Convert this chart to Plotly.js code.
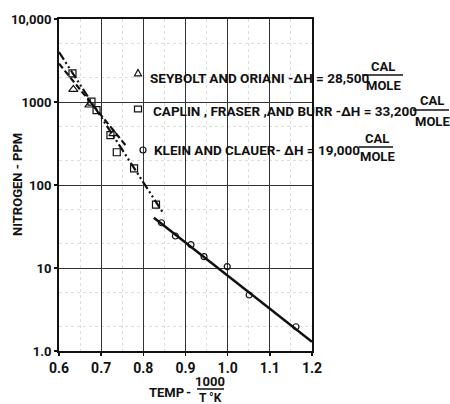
<!DOCTYPE html>
<html>
<head>
<meta charset="utf-8">
<script src="https://cdn.plot.ly/plotly-3.0.1.min.js"></script>
<style>
html,body{margin:0;padding:0;background:#fff;}
#chart{width:450px;height:404px;}
</style>
</head>
<body>
<div id="chart"></div>
<script>
// ---- data ----
var seyboltX = [0.597, 0.634, 0.672, 0.729];
var seyboltY = [2660, 1420, 920, 415];

var caplinX = [0.632, 0.677, 0.689, 0.722, 0.737, 0.778, 0.830];
var caplinY = [2210, 1010, 800, 400, 248, 159, 58];

var kleinX = [0.843, 0.876, 0.913, 0.944, 0.999, 1.051, 1.162];
var kleinY = [35.1, 24.3, 19.1, 13.7, 10.4, 4.73, 1.96];

var caplinFitX = [0.600, 0.847];
var caplinFitY = [4000, 46];
var seyboltFitX = [0.600, 0.760];
var seyboltFitY = [2900, 292];
var kleinFitX = [0.825, 1.200];
var kleinFitY = [40.4, 1.29];

var xTicks = [0.6, 0.7, 0.8, 0.9, 1.0, 1.1, 1.2];
var xTickText = ["0.6", "0.7", "0.8", "0.9", "1.0", "1.1", "1.2"];
var yTicks = [1, 10, 100, 1000, 10000];
var yTickText = ["1.0", "10", "100", "1000", "10,000"];

var legendNames = ["SEYBOLT AND ORIANI -\u0394H = 28,500", "CAPLIN , FRASER ,AND BURR -\u0394H = 33,200", "KLEIN AND CLAUER- \u0394H = 19,000"];
var legendSymbols = ["triangle", "square", "circle"];
var fracTop = "CAL";
var fracBottom = "MOLE";

// ---- layout geometry ----
var W = 450, H = 404;
var L = 59, R = 312, T = 19, B = 351;
function px(x){ return (x - L) / (R - L); }
function py(y){ return (B - y) / (B - T); }

var FONT = 'Roboto, "Liberation Sans", sans-serif';
var black = '#111';

var traces = [
  {x: caplinFitX, y: caplinFitY, mode: 'lines', line: {color: black, width: 2.2, dash: '9px,3px,2px,3px,2px,3px'}, hoverinfo: 'skip'},
  {x: seyboltFitX, y: seyboltFitY, mode: 'lines', line: {color: black, width: 2.2, dash: '6px,3px'}, hoverinfo: 'skip'},
  {x: kleinFitX, y: kleinFitY, mode: 'lines', line: {color: black, width: 2.6}, hoverinfo: 'skip'},
  {x: seyboltX, y: seyboltY, mode: 'markers', cliponaxis: false,
   marker: {symbol: 'triangle-up-open', size: 8, color: black, line: {width: 1.2}}},
  {x: caplinX, y: caplinY, mode: 'markers', cliponaxis: false,
   marker: {symbol: 'square-open', size: 7, color: black, line: {width: 1.2}}},
  {x: kleinX, y: kleinY, mode: 'markers', cliponaxis: false,
   marker: {symbol: 'circle-open', size: 6, color: black, line: {width: 1.2}}}
];

var ann = [];
var shapes = [];
function txt(t, x, y, size, anchor){
  ann.push({text: t, xref: 'paper', yref: 'paper', x: px(x), y: py(y), xanchor: anchor || 'left', yanchor: 'middle',
            showarrow: false, font: {family: FONT, size: size, color: black, weight: 'bold'}});
}
function bar(x0, x1, y){
  shapes.push({type: 'line', xref: 'paper', yref: 'paper', x0: px(x0), x1: px(x1), y0: py(y), y1: py(y),
               line: {color: black, width: 1.5}});
}
function symbolShape(kind, cx, cy){
  var s = 3.5;
  var ln = {color: black, width: 1.2};
  if (kind === 'triangle') {
    var p = 'M' + px(cx - s) + ',' + py(cy + s * 0.8) + ' L' + px(cx + s) + ',' + py(cy + s * 0.8) + ' L' + px(cx) + ',' + py(cy - s) + ' Z';
    shapes.push({type: 'path', xref: 'paper', yref: 'paper', path: p, line: ln});
  } else if (kind === 'square') {
    shapes.push({type: 'rect', xref: 'paper', yref: 'paper', x0: px(cx - s), x1: px(cx + s), y0: py(cy + s * 0.8), y1: py(cy - s * 0.8), line: ln});
  } else {
    shapes.push({type: 'circle', xref: 'paper', yref: 'paper', x0: px(cx - 3), x1: px(cx + 3), y0: py(cy + 3), y1: py(cy - 3), line: ln});
  }
}

// legend rows
var rows = [
  {sx: 138, sy: 73, tx: 148, ty: 77.5, cx: 383, cy: 66, b0: 362, b1: 403, by: 75, my: 86},
  {sx: 138, sy: 109, tx: 151, ty: 111, cx: 432, cy: 100, b0: 413, b1: 449, by: 110, my: 121},
  {sx: 143, sy: 150, tx: 152, ty: 150, cx: 377, cy: 138, b0: 359, b1: 393, by: 147, my: 157}
];
rows.forEach(function(r, i){
  symbolShape(legendSymbols[i], r.sx, r.sy);
  txt(legendNames[i], r.tx, r.ty, 13.5, 'left');
  txt(fracTop, r.cx, r.cy, 13, 'center');
  txt(fracBottom, r.cx, r.my, 13, 'center');
  bar(r.b0, r.b1, r.by);
});

// x axis title with fraction
txt("TEMP", 147, 392, 13, 'left');
txt("-", 188, 392, 13, 'center');
txt("1000", 210, 381, 13, 'center');
bar(197, 224, 389);
txt("T \u00B0K", 210, 398, 12, 'center');

// y axis title
ann.push({text: "NITROGEN - PPM", xref: 'paper', yref: 'paper', x: px(17), y: py(185), xanchor: 'center', yanchor: 'middle',
          textangle: -90, showarrow: false, font: {family: FONT, size: 13, color: black, weight: 'bold'}});

var layout = {
  width: W, height: H,
  margin: {l: L, r: W - R, t: T, b: H - B, pad: 0},
  paper_bgcolor: '#fff', plot_bgcolor: '#fff',
  showlegend: false,
  xaxis: {
    type: 'linear', range: [0.6, 1.2], tickvals: xTicks, ticktext: xTickText,
    showgrid: true, gridcolor: '#333', gridwidth: 1,
    minor: {dtick: 0.05, showgrid: true, gridcolor: '#dddddd', griddash: 'dot', gridwidth: 1},
    showline: true, linecolor: black, linewidth: 2, mirror: true,
    ticks: 'outside', ticklen: 3, tickcolor: black, tickwidth: 1.5,
    tickfont: {family: FONT, size: 14, color: black, weight: 'bold'},
    zeroline: false, fixedrange: true
  },
  yaxis: {
    type: 'log', range: [0, 4], tickvals: yTicks, ticktext: yTickText,
    showgrid: true, gridcolor: '#333', gridwidth: 1,
    minor: {tickvals: [2, 5, 20, 50, 200, 500, 2000, 5000], showgrid: true, gridcolor: '#dddddd', griddash: 'dot', gridwidth: 1},
    showline: true, linecolor: black, linewidth: 2, mirror: true,
    ticks: 'outside', ticklen: 3, tickcolor: black, tickwidth: 1.5,
    tickfont: {family: FONT, size: 13, color: black, weight: 'bold'},
    zeroline: false, fixedrange: true
  },
  annotations: ann,
  shapes: shapes
};

Plotly.newPlot('chart', traces, layout, {displayModeBar: false, staticPlot: true});
</script>
</body>
</html>
